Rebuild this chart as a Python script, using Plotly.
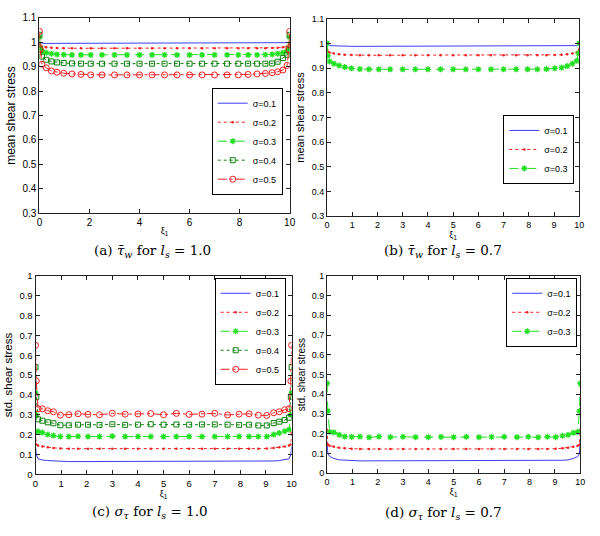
import plotly.graph_objects as go

# ---------------- data ----------------
xi = [0, 0.03, 0.1, 0.27, 0.48, 0.7, 0.97, 1.3, 1.66, 2.05, 2.5, 3.0, 3.5, 4.0, 4.5, 5.0,
      5.5, 6.0, 6.5, 7.0, 7.5, 7.95, 8.34, 8.7, 9.03, 9.3, 9.52, 9.73, 9.9, 9.97, 10]

sigma_labels_5 = ["σ=0.1", "σ=0.2", "σ=0.3", "σ=0.4", "σ=0.5"]
sigma_labels_3 = ["σ=0.1", "σ=0.2", "σ=0.3"]

# (a) mean shear stress, l_s = 1.0
mean_ls10_s1 = [1.000, 0.998, 0.996, 0.995, 0.995, 0.995, 0.995, 0.995, 0.995, 0.995, 0.995, 0.995, 0.995, 0.995, 0.995, 0.995,
                0.995, 0.995, 0.995, 0.995, 0.995, 0.995, 0.995, 0.995, 0.995, 0.995, 0.995, 0.995, 0.996, 0.998, 1.000]
mean_ls10_s2 = [0.995, 0.988, 0.982, 0.979, 0.977, 0.976, 0.975, 0.975, 0.975, 0.975, 0.975, 0.975, 0.975, 0.975, 0.975, 0.975,
                0.975, 0.975, 0.975, 0.975, 0.975, 0.975, 0.975, 0.975, 0.975, 0.976, 0.977, 0.979, 0.982, 0.988, 0.995]
mean_ls10_s3 = [1.020, 0.975, 0.963, 0.957, 0.953, 0.950, 0.949, 0.948, 0.948, 0.948, 0.948, 0.948, 0.948, 0.948, 0.948, 0.948,
                0.948, 0.948, 0.948, 0.948, 0.948, 0.948, 0.948, 0.948, 0.949, 0.950, 0.953, 0.957, 0.963, 0.975, 1.020]
mean_ls10_s4 = [1.030, 0.970, 0.941, 0.928, 0.921, 0.917, 0.915, 0.913, 0.912, 0.912, 0.912, 0.912, 0.912, 0.912, 0.912, 0.912,
                0.912, 0.912, 0.912, 0.912, 0.912, 0.912, 0.912, 0.912, 0.912, 0.913, 0.920, 0.935, 0.948, 0.968, 1.030]
mean_ls10_s5 = [1.044, 0.970, 0.910, 0.895, 0.882, 0.877, 0.873, 0.870, 0.868, 0.866, 0.866, 0.866, 0.866, 0.866, 0.866, 0.866,
                0.866, 0.866, 0.866, 0.866, 0.866, 0.866, 0.868, 0.870, 0.872, 0.875, 0.879, 0.886, 0.905, 0.970, 1.044]

# (b) mean shear stress, l_s = 0.7
mean_ls07_s1 = [0.998, 0.994, 0.991, 0.990, 0.989, 0.989, 0.988, 0.988, 0.988, 0.988, 0.988, 0.988, 0.988, 0.988, 0.988, 0.988,
                0.988, 0.988, 0.988, 0.988, 0.988, 0.988, 0.988, 0.988, 0.988, 0.989, 0.989, 0.990, 0.991, 0.994, 0.998]
mean_ls07_s2 = [0.975, 0.967, 0.963, 0.959, 0.956, 0.954, 0.953, 0.952, 0.952, 0.952, 0.952, 0.952, 0.952, 0.952, 0.952, 0.952,
                0.952, 0.952, 0.952, 0.952, 0.952, 0.952, 0.952, 0.952, 0.953, 0.954, 0.956, 0.959, 0.963, 0.967, 0.975]
mean_ls07_s3 = [1.000, 0.950, 0.927, 0.918, 0.910, 0.904, 0.899, 0.896, 0.895, 0.895, 0.895, 0.895, 0.895, 0.895, 0.895, 0.895,
                0.895, 0.895, 0.895, 0.895, 0.895, 0.895, 0.895, 0.896, 0.899, 0.902, 0.908, 0.918, 0.930, 0.960, 1.000]

# (c) std shear stress, l_s = 1.0
std_ls10_s1 = [0.140, 0.100, 0.078, 0.072, 0.069, 0.067, 0.065, 0.064, 0.064, 0.064, 0.064, 0.064, 0.064, 0.064, 0.064, 0.064,
               0.064, 0.064, 0.064, 0.064, 0.064, 0.064, 0.064, 0.064, 0.065, 0.067, 0.069, 0.072, 0.078, 0.100, 0.140]
std_ls10_s2 = [0.210, 0.150, 0.145, 0.140, 0.136, 0.133, 0.130, 0.129, 0.129, 0.129, 0.129, 0.129, 0.129, 0.129, 0.129, 0.129,
               0.129, 0.129, 0.129, 0.129, 0.129, 0.129, 0.129, 0.129, 0.130, 0.133, 0.136, 0.140, 0.145, 0.150, 0.210]
std_ls10_s3 = [0.410, 0.300, 0.215, 0.210, 0.200, 0.195, 0.190, 0.190, 0.191, 0.190, 0.190, 0.192, 0.190, 0.190, 0.190, 0.190,
               0.190, 0.190, 0.190, 0.190, 0.190, 0.190, 0.190, 0.190, 0.190, 0.200, 0.208, 0.217, 0.225, 0.300, 0.410]
std_ls10_s4 = [0.540, 0.390, 0.277, 0.270, 0.262, 0.257, 0.247, 0.247, 0.250, 0.250, 0.249, 0.252, 0.249, 0.250, 0.252, 0.250,
               0.251, 0.250, 0.251, 0.251, 0.250, 0.249, 0.250, 0.246, 0.246, 0.258, 0.265, 0.273, 0.285, 0.390, 0.540]
std_ls10_s5 = [0.650, 0.470, 0.330, 0.330, 0.320, 0.315, 0.298, 0.300, 0.305, 0.302, 0.300, 0.307, 0.303, 0.304, 0.306, 0.300,
               0.307, 0.302, 0.303, 0.307, 0.299, 0.303, 0.305, 0.298, 0.296, 0.310, 0.315, 0.325, 0.330, 0.470, 0.650]

# (d) std shear stress, l_s = 0.7
std_ls07_s1 = [0.160, 0.100, 0.085, 0.075, 0.068, 0.066, 0.064, 0.063, 0.063, 0.063, 0.063, 0.063, 0.063, 0.063, 0.063, 0.063,
               0.063, 0.063, 0.063, 0.063, 0.063, 0.063, 0.063, 0.063, 0.064, 0.066, 0.068, 0.075, 0.085, 0.100, 0.160]
std_ls07_s2 = [0.220, 0.145, 0.140, 0.135, 0.130, 0.127, 0.124, 0.123, 0.123, 0.123, 0.123, 0.123, 0.123, 0.123, 0.123, 0.123,
               0.123, 0.123, 0.123, 0.123, 0.123, 0.123, 0.123, 0.123, 0.124, 0.127, 0.130, 0.135, 0.140, 0.145, 0.220]
std_ls07_s3 = [0.455, 0.315, 0.210, 0.207, 0.195, 0.186, 0.184, 0.186, 0.182, 0.186, 0.183, 0.185, 0.183, 0.183, 0.184, 0.183,
               0.185, 0.183, 0.184, 0.185, 0.183, 0.185, 0.182, 0.185, 0.183, 0.190, 0.195, 0.205, 0.210, 0.315, 0.455]

captions = [
    "(a) <i>τ̄</i><sub><i>w</i></sub> for <i>l</i><sub><i>s</i></sub> = 1.0",
    "(b) <i>τ̄</i><sub><i>w</i></sub> for <i>l</i><sub><i>s</i></sub> = 0.7",
    "(c) <i>σ</i><sub><i>τ</i></sub> for <i>l</i><sub><i>s</i></sub> = 1.0",
    "(d) <i>σ</i><sub><i>τ</i></sub> for <i>l</i><sub><i>s</i></sub> = 0.7",
]

# ---------------- styles ----------------
W, H = 600, 536
BLUE, RED, GREEN, DGREEN = "#3d3df5", "#f02020", "#20e020", "#0f820f"
styles = [
    dict(mode="lines", line=dict(color=BLUE, width=1, dash="solid")),
    dict(mode="lines+markers", line=dict(color=RED, width=1, dash="dot"),
         marker=dict(symbol="circle", size=2.5, color=RED)),
    dict(mode="lines+markers", line=dict(color=GREEN, width=1, dash="dash"),
         marker=dict(symbol="asterisk-open", size=5, color=GREEN, line=dict(color=GREEN, width=1.3))),
    dict(mode="lines+markers", line=dict(color=DGREEN, width=1, dash="dot"),
         marker=dict(symbol="square-open", size=5, color=DGREEN, line=dict(color=DGREEN, width=1))),
    dict(mode="lines+markers", line=dict(color=RED, width=1, dash="dashdot"),
         marker=dict(symbol="circle-open", size=6, color=RED, line=dict(color=RED, width=1))),
]

# panel pixel boxes: (left, right, top, bottom)
boxes = [(37, 291, 12, 212), (329, 585, 13, 215), (33, 293, 276, 479), (329, 586, 276, 478)]

panels = [
    dict(series=[mean_ls10_s1, mean_ls10_s2, mean_ls10_s3, mean_ls10_s4, mean_ls10_s5], labels=sigma_labels_5,
         yrange=[0.3, 1.1], dx=2, ytitle="mean shear stress", tsize=12, tick=10,
         legend=dict(x=284, y=193, xanchor="right", yanchor="bottom")),
    dict(series=[mean_ls07_s1, mean_ls07_s2, mean_ls07_s3], labels=sigma_labels_3,
         yrange=[0.3, 1.1], dx=1, ytitle="mean shear stress", tsize=11, tick=9,
         legend=dict(x=580, y=182, xanchor="right", yanchor="bottom")),
    dict(series=[std_ls10_s1, std_ls10_s2, std_ls10_s3, std_ls10_s4, std_ls10_s5], labels=sigma_labels_5,
         yrange=[0, 1], dx=1, ytitle="std. shear stress", tsize=11.5, tick=9.5,
         legend=dict(x=287, y=278, xanchor="right", yanchor="top")),
    dict(series=[std_ls07_s1, std_ls07_s2, std_ls07_s3], labels=sigma_labels_3,
         yrange=[0, 1], dx=1, ytitle="std. shear stress", tsize=10, tick=9,
         legend=dict(x=583, y=278, xanchor="right", yanchor="top")),
]

cap_pos = [(152, 251), (447, 251), (149, 518), (447, 519)]

fig = go.Figure()
layout = dict(width=W, height=H, margin=dict(l=0, r=0, t=0, b=0),
              paper_bgcolor="white", plot_bgcolor="white",
              font=dict(family="Liberation Sans, Arial, sans-serif", size=10, color="black"))
annotations = []

for i, p in enumerate(panels):
    n = "" if i == 0 else str(i + 1)
    legname = "legend" + n
    for s, (vals, lab) in enumerate(zip(p["series"], p["labels"])):
        fig.add_trace(go.Scatter(x=xi, y=vals, name=lab, xaxis="x" + n, yaxis="y" + n,
                                 legend=legname, **styles[s]))
    l, r, t, b = boxes[i]
    axcommon = dict(showline=True, linecolor="#222222", linewidth=1, mirror="ticks", ticks="inside",
                    ticklen=4, tickcolor="#222222", showgrid=False, zeroline=False,
                    tickfont=dict(size=p["tick"]))
    layout["xaxis" + n] = dict(domain=[l / W, r / W], range=[0, 10], dtick=p["dx"], tick0=0,
                               anchor="y" + n, title=dict(text="ξ<sub>1</sub>", font=dict(size=9), standoff=0),
                               **axcommon)
    layout["yaxis" + n] = dict(domain=[1 - b / H, 1 - t / H], range=p["yrange"], dtick=0.1, tick0=0,
                               anchor="x" + n, title=dict(text=p["ytitle"], font=dict(size=p["tsize"]), standoff=4),
                               **axcommon)
    lg = p["legend"]
    layout[legname] = dict(x=lg["x"] / W, y=1 - lg["y"] / H, xanchor=lg["xanchor"], yanchor=lg["yanchor"],
                           bgcolor="white", bordercolor="black", borderwidth=1,
                           font=dict(size=9), itemwidth=30, tracegroupgap=0)
    cx, cy = cap_pos[i]
    annotations.append(dict(text=captions[i], x=cx / W, y=1 - cy / H, xref="paper", yref="paper",
                            showarrow=False, xanchor="center", yanchor="middle",
                            font=dict(family="DejaVu Serif, Liberation Serif, serif", size=13.5, color="black")))

layout["annotations"] = annotations
fig.update_layout(**layout)
fig.write_html("out.html", config={"displayModeBar": False},
               post_script="document.body.style.margin='0px';")
